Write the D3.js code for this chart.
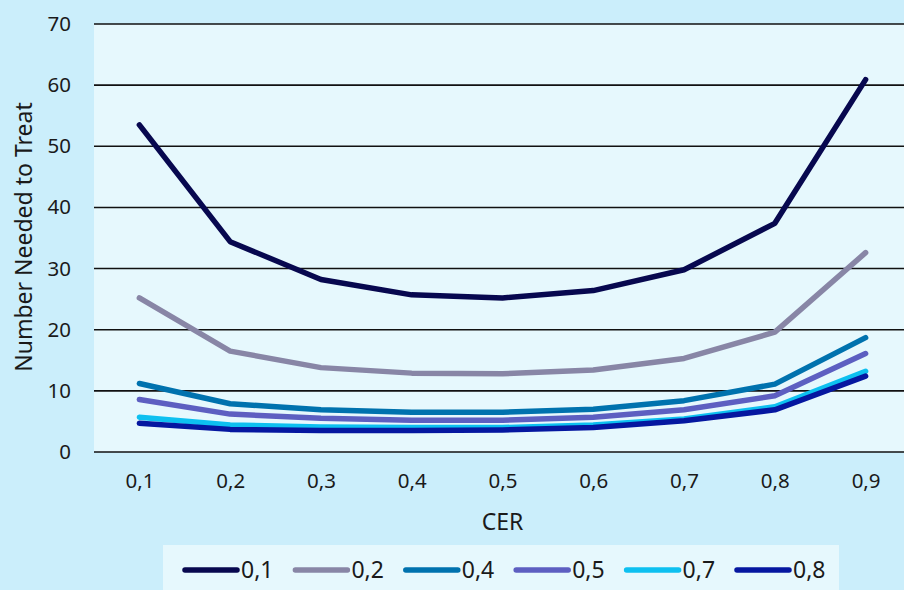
<!DOCTYPE html>
<html>
<head>
<meta charset="utf-8">
<script src="https://cdn.jsdelivr.net/npm/d3@7"></script>
<style>
  body { margin: 0; background: #cbeefb; }
  svg { display: block; font-family: "Noto Sans", sans-serif; }
</style>
</head>
<body>
<div id="chart"></div>
<script>
var width = 904, height = 590;

// CER categories on the x axis
var cer = ["0,1", "0,2", "0,3", "0,4", "0,5", "0,6", "0,7", "0,8", "0,9"];
var yTicks = [0, 10, 20, 30, 40, 50, 60, 70];

// one series per RRR value
var seriesNames = ["0,1", "0,2", "0,4", "0,5", "0,7", "0,8"];
var seriesColors = ["#07084f", "#8886a6", "#0072ae", "#5d5fc1", "#0dc0f0", "#0517a0"];
var nnt01 = [53.5, 34.4, 28.2, 25.7, 25.2, 26.4, 29.8, 37.4, 60.9];
var nnt02 = [25.2, 16.5, 13.8, 12.9, 12.8, 13.4, 15.3, 19.6, 32.6];
var nnt04 = [11.2, 7.9, 6.9, 6.5, 6.5, 7.0, 8.4, 11.1, 18.7];
var nnt05 = [8.6, 6.2, 5.5, 5.2, 5.2, 5.7, 6.9, 9.2, 16.1];
var nnt07 = [5.7, 4.4, 4.1, 4.0, 4.0, 4.4, 5.4, 7.4, 13.2];
var nnt08 = [4.7, 3.7, 3.5, 3.5, 3.6, 4.0, 5.1, 6.9, 12.4];
var allSeries = [nnt01, nnt02, nnt04, nnt05, nnt07, nnt08];

var margin = {left: 94, top: 24, right: -7, bottom: 138};
var plotW = width - margin.left - margin.right;
var plotH = height - margin.top - margin.bottom;

var svg = d3.select("#chart").append("svg")
  .attr("width", width)
  .attr("height", height);

svg.append("rect")
  .attr("width", width).attr("height", height)
  .attr("fill", "#cbeefb");

var g = svg.append("g")
  .attr("transform", "translate(" + margin.left + "," + margin.top + ")");

var x = d3.scalePoint()
  .domain(cer)
  .range([0, plotW])
  .padding(0.5);

var y = d3.scaleLinear()
  .domain([0, 70])
  .range([plotH, 0]);

// plot background
g.append("rect")
  .attr("x", 0).attr("y", 0)
  .attr("width", plotW).attr("height", plotH)
  .attr("fill", "#e6f8fd");

// gridlines
g.selectAll(".grid")
  .data(yTicks)
  .enter().append("line")
  .attr("class", "grid")
  .attr("x1", 0).attr("x2", plotW)
  .attr("y1", d => y(d)).attr("y2", d => y(d))
  .attr("stroke", "#111")
  .attr("stroke-width", 1.6);

var yAxis = d3.axisLeft(y).tickValues(yTicks).tickSize(0).tickPadding(23);
g.append("g").call(yAxis)
  .call(s => s.select(".domain").remove())
  .selectAll("text")
  .attr("font-size", 20.5)
  .attr("font-family", "Noto Sans")
  .attr("fill", "#1a1a1a");

var xAxis = d3.axisBottom(x).tickSize(0).tickPadding(21);
g.append("g")
  .attr("transform", "translate(0," + plotH + ")")
  .call(xAxis)
  .call(s => s.select(".domain").remove())
  .selectAll("text")
  .attr("font-size", 20.5)
  .attr("font-family", "Noto Sans")
  .attr("fill", "#1a1a1a");

// axis titles
svg.append("text")
  .attr("x", margin.left + x("0,5"))
  .attr("y", 530)
  .attr("text-anchor", "middle")
  .attr("font-size", 23)
  .attr("fill", "#1a1a1a")
  .text("CER");

svg.append("text")
  .attr("transform", "translate(32,237) rotate(-90)")
  .attr("text-anchor", "middle")
  .attr("font-size", 23)
  .attr("fill", "#1a1a1a")
  .text("Number Needed to Treat");

// lines
var line = d3.line()
  .x((d, i) => x(cer[i]))
  .y(d => y(d));

g.selectAll(".series")
  .data(allSeries)
  .enter().append("path")
  .attr("class", "series")
  .attr("d", line)
  .attr("fill", "none")
  .attr("stroke", (d, i) => seriesColors[i])
  .attr("stroke-width", 5.5)
  .attr("stroke-linecap", "round")
  .attr("stroke-linejoin", "round");

// legend
var legend = svg.append("g");
legend.append("rect")
  .attr("x", 163).attr("y", 545)
  .attr("width", 676).attr("height", 45)
  .attr("fill", "#e6f8fd");

var item = legend.selectAll(".item")
  .data(seriesNames)
  .enter().append("g")
  .attr("class", "item")
  .attr("transform", (d, i) => "translate(" + (185 + i * 110.4) + ",570)");

item.append("line")
  .attr("x1", 0).attr("x2", 52)
  .attr("y1", 0).attr("y2", 0)
  .attr("stroke", (d, i) => seriesColors[i])
  .attr("stroke-width", 5.5)
  .attr("stroke-linecap", "round");

item.append("text")
  .attr("x", 56)
  .attr("y", 8)
  .attr("font-size", 23)
  .attr("fill", "#1a1a1a")
  .text(d => d);
</script>
</body>
</html>
